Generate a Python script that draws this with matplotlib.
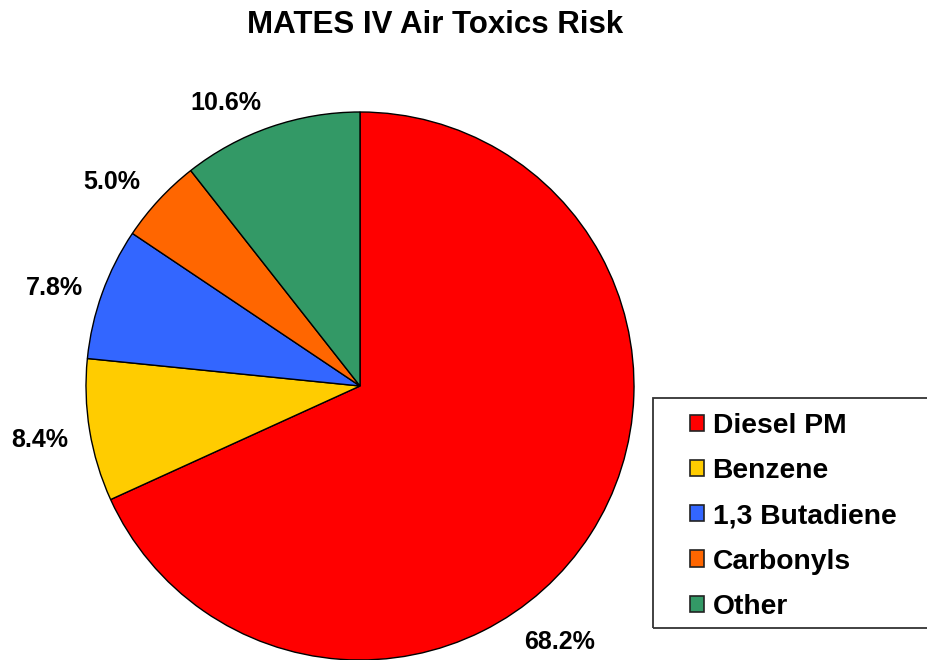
import matplotlib.pyplot as plt
from matplotlib.patches import Patch, Rectangle

categories = ["Diesel PM", "Benzene", "1,3 Butadiene", "Carbonyls", "Other"]
values = [68.2, 8.4, 7.8, 5.0, 10.6]
colors = ["#FF0000", "#FFCC00", "#3366FF", "#FF6600", "#339966"]
pct_labels = ["68.2%", "8.4%", "7.8%", "5.0%", "10.6%"]

plt.rcParams['font.family'] = ['Liberation Sans', 'DejaVu Sans']
plt.rcParams['font.weight'] = 'bold'

W, H = 927, 660
fig = plt.figure(figsize=(W / 100, H / 100), dpi=100)
ax = fig.add_axes([0, 0, 1, 1])

# pie in pixel units, y measured upward
cx, cy, r = 360, H - 386, 274
wedges, _ = ax.pie(values, colors=colors, startangle=90, counterclock=False,
                   center=(cx, cy), radius=r, frame=True,
                   wedgeprops=dict(edgecolor='black', linewidth=1))
ax.set_xlim(0, W)
ax.set_ylim(0, H)
ax.axis('off')

# label positions (image pixels)
label_pos = [(560, 642), (40, 440), (54, 288), (112, 182), (226, 103)]
for txt, (x, y) in zip(pct_labels, label_pos):
    ax.text(x, H - y, txt, ha='center', va='center', fontsize=18, fontweight='bold')

ax.text(435, H - 25, "MATES IV Air Toxics Risk", ha='center', va='center',
        fontsize=22.5, fontweight='bold')

handles = [Patch(facecolor=c, edgecolor='#222222', linewidth=1.2) for c in colors]
ax.legend(handles, categories, loc='upper left', bbox_to_anchor=(690, H - 413),
          bbox_transform=ax.transData, frameon=False, borderpad=0, borderaxespad=0,
          handlelength=0.5, handleheight=0.5, handletextpad=0.3,
          labelspacing=0.68, prop={'weight': 'bold', 'size': 20.3})
ax.add_patch(Rectangle((653, H - 628), 320, 230, fill=False, edgecolor='#333333',
                       linewidth=1.3))

fig.savefig("out.png", dpi=100)
